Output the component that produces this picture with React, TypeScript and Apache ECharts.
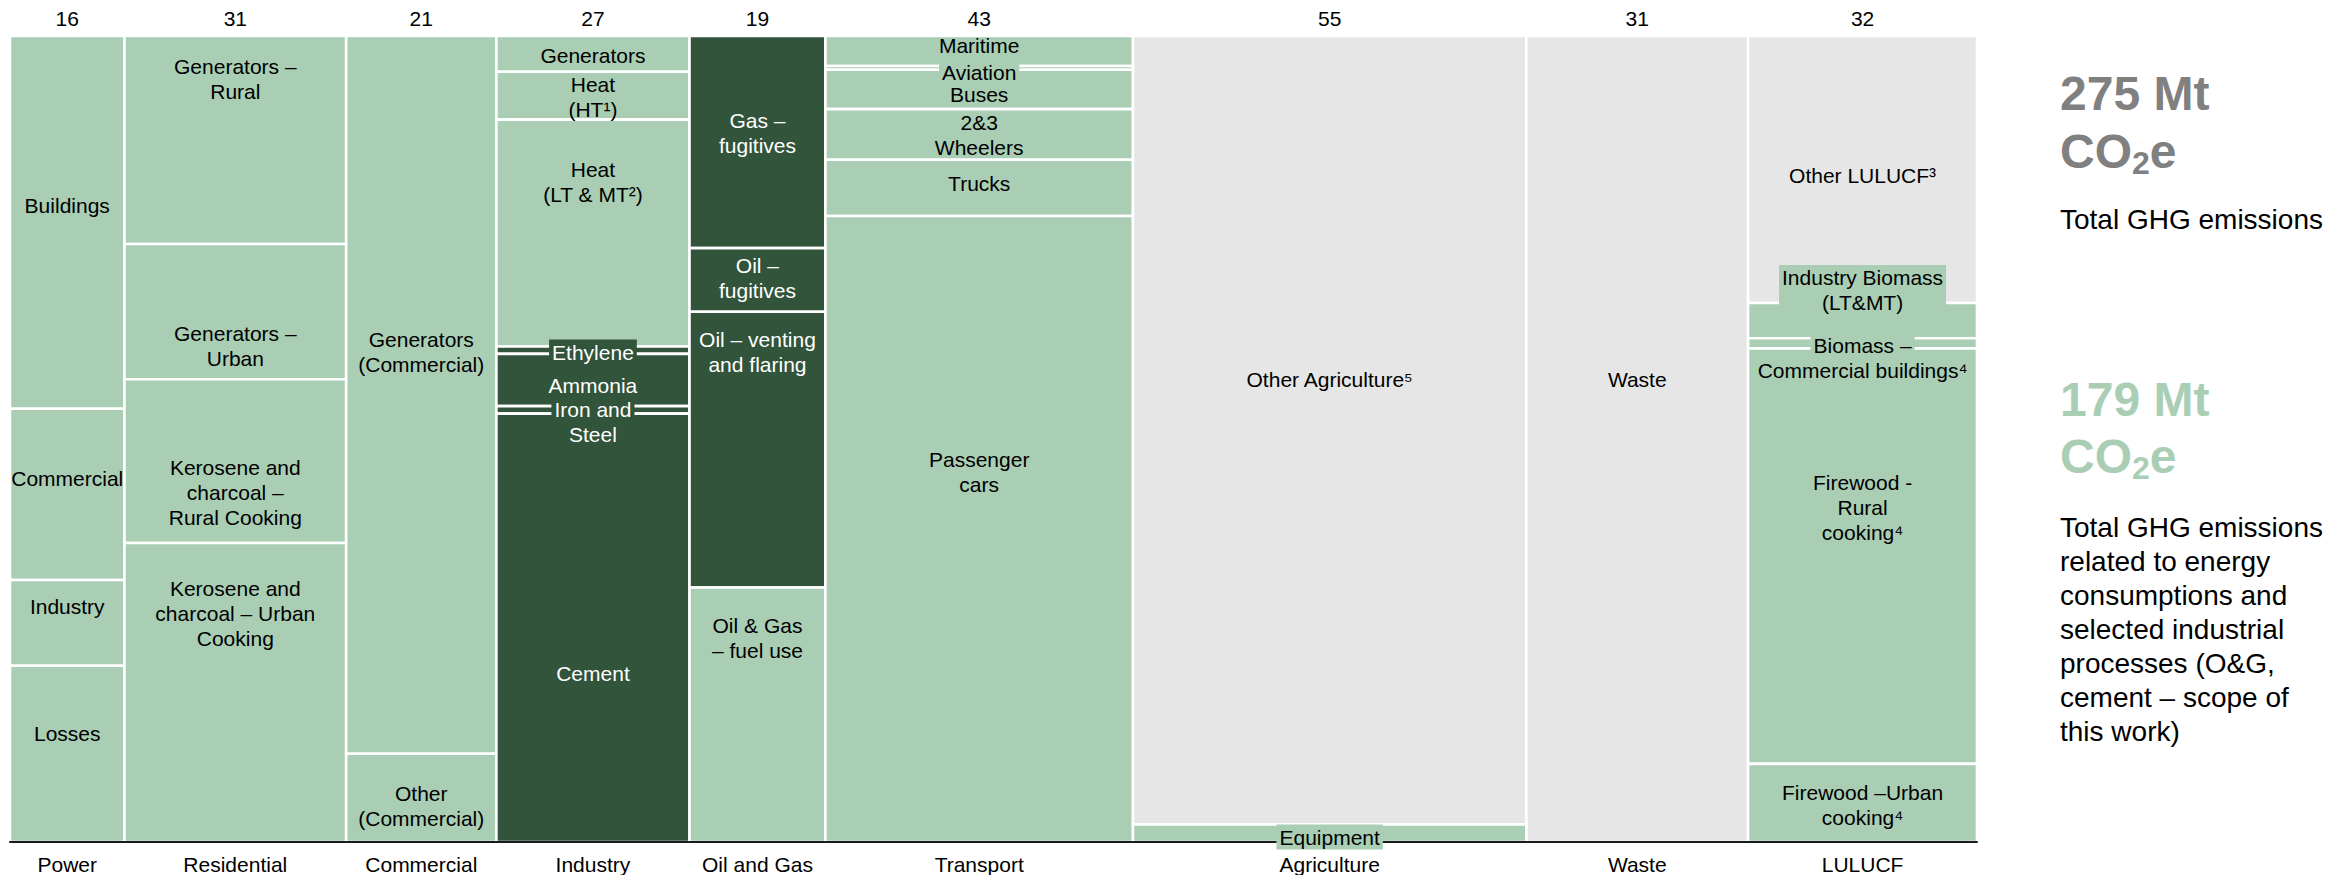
import React, { useEffect, useRef } from "react";
import * as echarts from "echarts";

// ---------------- DATA ----------------
const sectorNames = ["Power", "Residential", "Commercial", "Industry", "Oil and Gas", "Transport", "Agriculture", "Waste", "LULUCF"];
const sectorTotals = [16, 31, 21, 27, 19, 43, 55, 31, 32];

// [label, Mt CO2e, kind]  kind: E = energy (in scope), P = process / fugitive (in scope), O = outside scope
const powerSegments = [["Buildings", 7.4, "E"], ["Commercial", 3.4, "E"], ["Industry", 1.7, "E"], ["Losses", 3.5, "E"]];
const residentialSegments = [["Generators –\nRural", 8.0, "E"], ["Generators –\nUrban", 5.2, "E"], ["Kerosene and\ncharcoal –\nRural Cooking", 6.3, "E"], ["Kerosene and\ncharcoal – Urban\nCooking", 11.5, "E"]];
const commercialSegments = [["Generators\n(Commercial)", 18.7, "E"], ["Other\n(Commercial)", 2.3, "E"]];
const industrySegments = [["Generators", 1.2, "E"], ["Heat\n(HT¹)", 1.6, "E"], ["Heat\n(LT & MT²)", 7.6, "E"], ["Ethylene", 0.25, "P"], ["Ammonia", 1.75, "P"], ["Iron and\nSteel", 0.25, "P"], ["Cement", 14.35, "P"]];
const oilGasSegments = [["Gas –\nfugitives", 5.0, "P"], ["Oil –\nfugitives", 1.5, "P"], ["Oil – venting\nand flaring", 6.5, "P"], ["Oil & Gas\n– fuel use", 6.0, "E"]];
const transportSegments = [["Maritime", 1.6, "E"], ["Aviation", 0.2, "E"], ["Buses", 2.1, "E"], ["2&3\nWheelers", 2.7, "E"], ["Trucks", 3.0, "E"], ["Passenger\ncars", 33.4, "E"]];
const agricultureSegments = [["Other Agriculture⁵", 53.8, "O"], ["Equipment", 1.2, "E"]];
const wasteSegments = [["Waste", 31, "O"]];
const lulucfSegments = [["Other LULUCF³", 10.6, "O"], ["Industry Biomass\n(LT&MT)", 1.4, "E"], ["Biomass –\nCommercial buildings⁴", 0.4, "E"], ["Firewood -\nRural\ncooking⁴", 16.5, "E"], ["Firewood –Urban\ncooking⁴", 3.1, "E"]];

const allSegments = [powerSegments, residentialSegments, commercialSegments, industrySegments, oilGasSegments, transportSegments, agricultureSegments, wasteSegments, lulucfSegments];

// label anchors, in % of the column height from its top (y-axis units)
const labelCenters = [
  [20.97, 54.84, 70.84, 86.48],
  [5.33, 38.46, 56.58, 71.59],
  [39.21, 95.53],
  [2.42, 7.57, 18.11, 39.21, 43.42, 47.89, 79.09],
  [12.03, 30.02, 39.21, 74.69],
  [1.12, 4.47, 7.26, 12.28, 18.24, 54.09],
  [42.62, 99.38],
  [42.62],
  [17.31, 31.51, 39.95, 58.44, 95.41],
];
// labels drawn on a backdrop of their own segment colour
const backdropAll = ["Ethylene", "Aviation", "Equipment", "Industry Biomass\n(LT&MT)"];
const backdropFirstLine = ["Iron and\nSteel", "Biomass –\nCommercial buildings⁴"];

const totalAllText = "275 Mt";
const totalScopeText = "179 Mt";
const captionAll = "Total GHG emissions";
const captionScope = ["Total GHG emissions", "related to energy", "consumptions and", "selected industrial", "processes (O&G,", "cement – scope of", "this work)"];

// ---------------- STYLE ----------------
const FONT = '"Liberation Sans", Arial, Helvetica, sans-serif';
const FILL: Record<string, string> = { E: "#a9ceb4", P: "#31543b", O: "#e6e6e6" };
const TEXT: Record<string, string> = { E: "#000000", P: "#ffffff", O: "#000000" };
const GREY_BIG = "#808080";
const GREEN_BIG = "#a9ceb4";

export default function App() {
  const ref = useRef<HTMLDivElement | null>(null);

  useEffect(() => {
    if (!ref.current) return;
    const chart = echarts.init(ref.current, undefined, { renderer: "svg" });

    const segRows: any[] = [];
    const labelRows: any[] = [];
    const headRows: any[] = [];
    let xStart = 0;
    allSegments.forEach((segs, i) => {
      const total = sectorTotals[i];
      let cum = 0;
      segs.forEach((s: any, j: number) => {
        const [name, v, kind] = s;
        segRows.push({ value: [xStart, xStart + total, (cum / total) * 100, ((cum + v) / total) * 100], kind });
        labelRows.push({ value: [xStart + total / 2, labelCenters[i][j]], name, kind });
        cum += v;
      });
      headRows.push({ value: [xStart, xStart + total], total, name: sectorNames[i] });
      xStart += total;
    });
    const xMax = xStart;

    const option: any = {
      animation: false,
      backgroundColor: "#ffffff",
      grid: { left: 10, right: 374, top: 36, bottom: 33 },
      xAxis: {
        type: "value",
        min: 0,
        max: xMax,
        z: 4,
        axisLine: { show: true, onZero: false, lineStyle: { color: "#1a1a1a", width: 2 } },
        axisTick: { show: false },
        axisLabel: { show: false },
        splitLine: { show: false },
      },
      yAxis: { type: "value", min: 0, max: 100, inverse: true, show: false, splitLine: { show: false } },
      series: [
        {
          type: "custom",
          z: 2,
          clip: false,
          data: segRows,
          renderItem: (params: any, api: any) => {
            const row = segRows[params.dataIndex];
            const p0 = api.coord([api.value(0), api.value(2)]);
            const p1 = api.coord([api.value(1), api.value(3)]);
            return {
              type: "rect",
              shape: { x: p0[0], y: p0[1], width: p1[0] - p0[0], height: p1[1] - p0[1] },
              style: { fill: FILL[row.kind], stroke: "#ffffff", lineWidth: 2.6 },
            };
          },
        },
        {
          type: "custom",
          z: 6,
          clip: false,
          data: labelRows,
          renderItem: (params: any, api: any) => {
            const row = labelRows[params.dataIndex];
            const p = api.coord([api.value(0), api.value(1)]);
            const fill = TEXT[row.kind];
            const base: any = {
              align: "center",
              verticalAlign: "middle",
              fontSize: 21,
              fontFamily: FONT,
              lineHeight: 25,
              fill,
            };
            if (backdropAll.includes(row.name)) {
              return {
                type: "text",
                x: p[0],
                y: p[1],
                style: { ...base, text: row.name, backgroundColor: FILL[row.kind], padding: [0, 3], lineHeight: 25 },
              };
            }
            if (backdropFirstLine.includes(row.name)) {
              const lines = row.name.split("\n");
              const txt = lines.map((l: string, k: number) => (k === 0 ? `{b|${l}}` : `{n|${l}}`)).join("\n");
              return {
                type: "text",
                x: p[0],
                y: p[1],
                style: {
                  ...base,
                  text: txt,
                  rich: {
                    b: { fontSize: 21, fontFamily: FONT, lineHeight: 25, fill, backgroundColor: FILL[row.kind], padding: [0, 3] },
                    n: { fontSize: 21, fontFamily: FONT, lineHeight: 25, fill },
                  },
                },
              };
            }
            return { type: "text", x: p[0], y: p[1], style: { ...base, text: row.name } };
          },
        },
        {
          type: "custom",
          z: 6,
          clip: false,
          data: headRows,
          renderItem: (params: any, api: any) => {
            const row = headRows[params.dataIndex];
            const p0 = api.coord([api.value(0), 0]);
            const p1 = api.coord([api.value(1), 100]);
            const cx = (p0[0] + p1[0]) / 2;
            const st = { align: "center", verticalAlign: "middle", fontSize: 21, fontFamily: FONT, fill: "#000000" };
            return {
              type: "group",
              children: [
                { type: "text", x: cx, y: p0[1] - 18, style: { ...st, text: String(row.total) } },
                { type: "text", x: cx, y: p1[1] + 22, style: { ...st, text: row.name } },
              ],
            };
          },
        },
      ],
      graphic: [
        { type: "text", x: 2060, y: 93, style: { text: totalAllText, fontSize: 48, fontWeight: "bold", fontFamily: FONT, fill: GREY_BIG, verticalAlign: "middle" } },
        {
          type: "text",
          x: 2060,
          y: 151,
          style: {
            text: "{a|CO}{s|2}{a|e}",
            verticalAlign: "middle",
            rich: {
              a: { fontSize: 48, fontWeight: "bold", fontFamily: FONT, fill: GREY_BIG, lineHeight: 56 },
              s: { fontSize: 32, fontWeight: "bold", fontFamily: FONT, fill: GREY_BIG, lineHeight: 22, verticalAlign: "bottom" },
            },
          },
        },
        { type: "text", x: 2060, y: 219, style: { text: captionAll, fontSize: 28, fontFamily: FONT, fill: "#000000", verticalAlign: "middle" } },
        { type: "text", x: 2060, y: 399, style: { text: totalScopeText, fontSize: 48, fontWeight: "bold", fontFamily: FONT, fill: GREEN_BIG, verticalAlign: "middle" } },
        {
          type: "text",
          x: 2060,
          y: 456,
          style: {
            text: "{a|CO}{s|2}{a|e}",
            verticalAlign: "middle",
            rich: {
              a: { fontSize: 48, fontWeight: "bold", fontFamily: FONT, fill: GREEN_BIG, lineHeight: 56 },
              s: { fontSize: 32, fontWeight: "bold", fontFamily: FONT, fill: GREEN_BIG, lineHeight: 22, verticalAlign: "bottom" },
            },
          },
        },
        { type: "text", x: 2060, y: 510, style: { text: captionScope.join("\n"), fontSize: 28, lineHeight: 34, fontFamily: FONT, fill: "#000000", verticalAlign: "top" } },
      ],
    };

    chart.setOption(option);
    return () => chart.dispose();
  }, []);

  return <div ref={ref} style={{ position: "fixed", left: 0, top: 0, width: 2351, height: 875, background: "#fff" }} />;
}
